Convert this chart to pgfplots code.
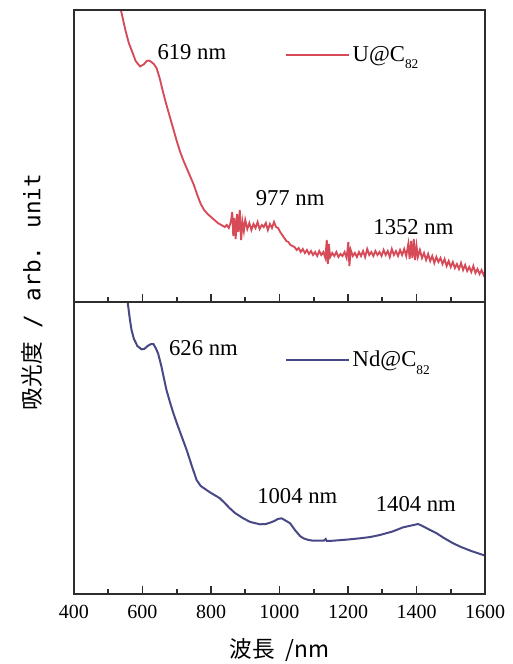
\documentclass[border=0pt]{standalone}
\usepackage{pgfplots}
\pgfplotsset{compat=1.18}
\usepackage{fontspec}
\setmainfont{Liberation Serif}
\newfontfamily\cjk{Noto Sans CJK JP}
\newfontfamily\mono{DejaVu Sans Mono}
\definecolor{ured}{RGB}{215,75,88}
\definecolor{ndblue}{RGB}{72,72,135}
\definecolor{framecol}{RGB}{45,45,45}

\pgfplotsset{
 panel/.style={
  scale only axis, width=308.25pt, height=219pt,
  xmin=400, xmax=1600, ymin=0, ymax=292,
  xtick={400,600,...,1600}, minor xtick={500,700,...,1500},
  ytick=\empty,
  tick align=inside, xtick pos=lower,
  major tick length=6pt, minor tick length=3.5pt,
  axis line style={draw=framecol, line width=1.3pt},
  major tick style={draw=framecol, line width=1.2pt},
  minor tick style={draw=framecol, line width=1.2pt},
  /pgf/number format/assume math mode=true,
  /pgf/number format/set thousands separator={},
  tick label style={font=\fontsize{15}{18}\selectfont},
  xticklabel style={yshift=-5pt},
  legend style={draw=none, fill=none, inner sep=0pt, anchor=west, font=\fontsize{17}{20}\selectfont, legend cell align=left},
  legend image code/.code={\draw[##1, line width=1.6pt] (0pt,0pt) -- (47pt,0pt);},
 },
 overlay/.style={panel, y dir=reverse, xticklabels={}},
}

\begin{document}
\begin{tikzpicture}
\begin{axis}[panel, name=top, xticklabels={},
  legend style={at={(axis cs:1016,247)}}]
\addplot[ured, line width=1.4pt] coordinates {
(520,330) (537,292) (550,272) (560,259) (568,252) (580,241) (593,235.5) (605,238) (612,241) (619,241.5) (626,240) (633,238) (641,234) (650,224) (660,210) (670,197) (680,185) (690,173) (700,161) (710,150) (720,141) (730,133) (740,125) (750,117) (760,107) (770,98) (780,92) (790,88) (800,85) (810,82) (820,79) (830,77)
(840,75) (846,77) (852,74) (858,80) (862,90) (865,66) (868,84) (872,63) (876,88) (880,70) (884,92) (888,62) (892,80) (896,71) (900,82) (906,73) (912,79) (918,72) (924,78) (930,74) (936,80) (942,73) (948,77) (954,75) (960,79) (966,72) (972,78) (978,74) (984,80) (990,75)
(996,74) (1002,70) (1008,67) (1014,64) (1020,61) (1026,60) (1032,57) (1038,56) (1044,55) (1050,52) (1056,54) (1062,50) (1068,53) (1074,49) (1080,52) (1086,48) (1092,51) (1098,47) (1104,50) (1110,46) (1116,51) (1122,47) (1128,50) (1134,44) (1138,62) (1141,38) (1144,58) (1148,45) (1154,49) (1160,46) (1166,50) (1172,45) (1178,48) (1184,46) (1190,50) (1196,44) (1201,60) (1204,36) (1208,52) (1214,46) (1220,49) (1226,45) (1232,50) (1238,46) (1244,51) (1250,45) (1256,53) (1262,47) (1268,50) (1274,46) (1280,51) (1286,47) (1292,50) (1298,46) (1304,52) (1310,47) (1316,51) (1322,45) (1328,53) (1334,47) (1340,51) (1346,46) (1352,52) (1358,47) (1364,53) (1370,46) (1376,58) (1380,43) (1384,61) (1388,44) (1392,63) (1396,42) (1400,56) (1404,45) (1410,52) (1416,44) (1422,49) (1428,42) (1434,48) (1440,41) (1446,46) (1452,39) (1458,45) (1464,40) (1470,44) (1476,38) (1482,43) (1488,36) (1494,41) (1500,35) (1506,40) (1512,34) (1518,38) (1524,33) (1530,39) (1536,32) (1542,37) (1548,31) (1554,35) (1560,30) (1566,36) (1572,29) (1578,33) (1584,28) (1590,32) (1596,27) (1600,30)
};
\addlegendentry{U@C\raisebox{-0.7ex}{\fontsize{10}{12}\selectfont 82}}
\node[font=\fontsize{17}{20}\selectfont] at (axis cs:744,250) {619 nm};
\node[font=\fontsize{17}{20}\selectfont] at (axis cs:1031,104) {977 nm};
\node[font=\fontsize{17}{20}\selectfont] at (axis cs:1391,75) {1352 nm};
\end{axis}
\begin{axis}[overlay, at={(top.south west)}, anchor=south west]
\end{axis}

\begin{axis}[panel, name=bot, at={(top.south west)}, anchor=north west,
  legend style={at={(axis cs:1016,234)}}]
\addplot[ndblue, line width=1.5pt] coordinates {
(545,320) (557,291) (563,275) (568,264) (575,255) (585,248) (597,244.7) (605,245) (615,248) (625,250) (632,250) (640,245) (646,240) (655,228) (663,215) (670,204) (680,192) (690,181) (700,171) (715,157) (729,144) (745,127) (758,114) (770,108) (787,104) (800,101) (815,98) (826,95.7) (840,91) (855,85.7) (870,81) (894,75.7) (915,72) (943,69.7) (960,70) (972,71.3) (985,73) (995,75) (1006,75.7) (1015,74) (1031,70.7) (1045,64) (1060,58) (1070,55.7) (1085,54) (1099,53.3) (1130,53.5) (1135,55) (1138,53) (1157,53.3) (1200,54.5) (1235,55.7) (1265,57) (1293,59) (1330,62.5) (1361,66.7) (1385,68.5) (1405,70) (1420,67.5) (1440,64) (1459,60.7) (1480,56) (1507,50.7) (1530,47) (1560,43) (1595,39) (1600,38.5)
};
\addlegendentry{Nd@C\raisebox{-0.7ex}{\fontsize{10}{12}\selectfont 82}}
\node[font=\fontsize{17}{20}\selectfont] at (axis cs:778,246) {626 nm};
\node[font=\fontsize{17}{20}\selectfont] at (axis cs:1052,98) {1004 nm};
\node[font=\fontsize{17}{20}\selectfont] at (axis cs:1398,90) {1404 nm};
\end{axis}
\begin{axis}[overlay, at={(bot.south west)}, anchor=south west]
\end{axis}

\node[rotate=90, font=\fontsize{17}{20}\selectfont] at ([shift={(-31.5pt,7.5pt)}]top.south west) {{\cjk 吸光度}{\mono{} / arb. unit}};
\node[font=\fontsize{17}{20}\selectfont] at ([shift={(0pt,-42pt)}]bot.south) {{\cjk 波長}\hspace{0.45em}{\cjk /nm}};

\pgfresetboundingbox
\path[use as bounding box] ([shift={(-55.5pt,-52.5pt)}]bot.south west) rectangle ++(384.75pt,498pt);
\end{tikzpicture}
\end{document}
